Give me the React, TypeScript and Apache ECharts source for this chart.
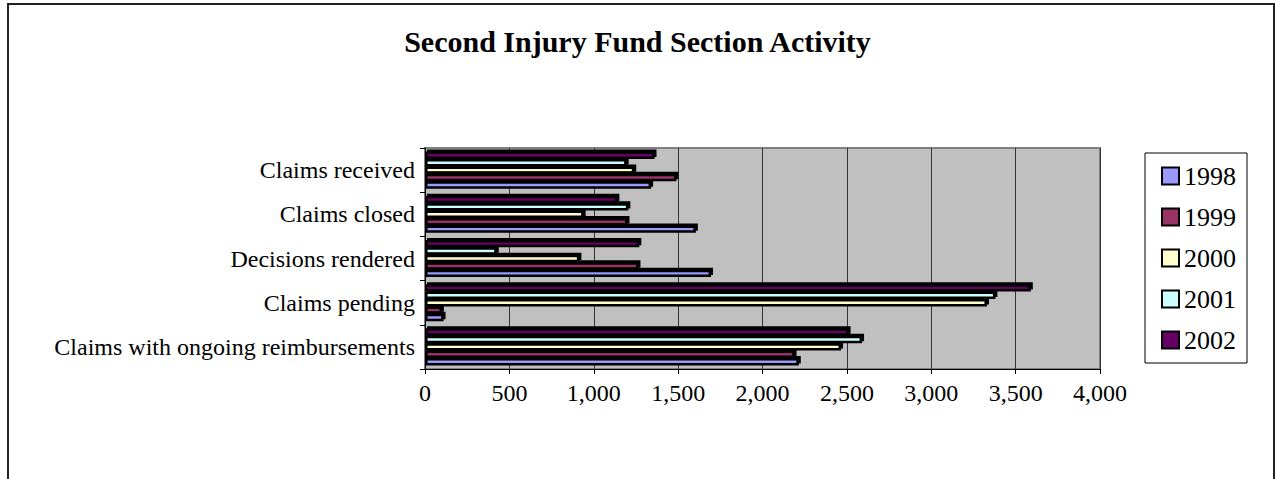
import React, { useEffect, useRef } from "react";
import * as echarts from "echarts";

const categories = [
  "Claims received",
  "Claims closed",
  "Decisions rendered",
  "Claims pending",
  "Claims with ongoing reimbursements",
];
const years = ["1998", "1999", "2000", "2001", "2002"];
const v1998 = [1340, 1605, 1695, 110, 2215];
const v1999 = [1490, 1200, 1265, 100, 2190];
const v2000 = [1240, 940, 915, 3330, 2465];
const v2001 = [1195, 1205, 425, 3380, 2590];
const v2002 = [1360, 1140, 1270, 3590, 2510];
const colors = ["#9999FF", "#993366", "#FFFFCC", "#CCFFFF", "#660066"];
const xTicks = { min: 0, max: 4000, interval: 500 };

const FONT = "Liberation Serif";

export default function App() {
  const ref = useRef<HTMLDivElement>(null);
  useEffect(() => {
    if (!ref.current) return;
    const chart = echarts.init(ref.current, undefined, { renderer: "svg" });
    const values = [v1998, v1999, v2000, v2001, v2002];
    const cats = categories.slice().reverse();
    const order = [4, 3, 2, 1, 0];
    chart.setOption({
      animation: false,
      backgroundColor: "#ffffff",
      textStyle: { fontFamily: FONT, color: "#000" },
      title: {
        text: "Second Injury Fund Section Activity",
        left: "center",
        top: 21,
        textStyle: { fontFamily: FONT, fontWeight: "bold", fontSize: 30, color: "#000" },
      },
      graphic: [
        {
          type: "rect",
          shape: { x: 8, y: 4, width: 1266, height: 520 },
          style: { fill: "none", stroke: "#222", lineWidth: 2 },
          silent: true,
        },
      ],
      legend: {
        orient: "vertical",
        left: 1145,
        top: 153,
        padding: [10, 11, 10, 16],
        itemGap: 15,
        itemWidth: 17,
        itemHeight: 17,
        icon: "rect",
        borderColor: "#000",
        borderWidth: 1,
        itemStyle: { borderColor: "#000", borderWidth: 2 },
        textStyle: { fontFamily: FONT, fontSize: 26, color: "#000" },
        data: years.map((y) => ({
          name: y,
          textStyle: { fontFamily: FONT, fontSize: 26, color: "#000" },
        })),
      },
      grid: {
        left: 425,
        right: 1275 - 1100,
        top: 148,
        bottom: 479 - 369,
        show: true,
        backgroundColor: "#C0C0C0",
        borderColor: "#808080",
        borderWidth: 2,
      },
      xAxis: {
        type: "value",
        min: xTicks.min,
        max: xTicks.max,
        interval: xTicks.interval,
        axisLine: { show: true, lineStyle: { color: "#000", width: 1 } },
        axisTick: { show: true, length: 5, lineStyle: { color: "#000" } },
        splitLine: { show: true, lineStyle: { color: "#333", width: 1 } },
        axisLabel: {
          fontFamily: FONT,
          fontSize: 24,
          color: "#000",
          margin: 12,
          formatter: (v: number) => v.toLocaleString("en-US"),
        },
      },
      yAxis: {
        type: "category",
        data: cats,
        axisLine: { show: true, lineStyle: { color: "#000", width: 1 } },
        axisTick: { show: true, length: 5, lineStyle: { color: "#000" } },
        axisLabel: { fontFamily: FONT, fontSize: 24, color: "#000", margin: 10 },
      },
      series: order.map((i) => ({
        name: years[i],
        type: "bar",
        data: values[i].slice().reverse(),
        barGap: "0%",
        barCategoryGap: "16%",
        itemStyle: {
          color: colors[i],
          borderColor: "#000",
          borderWidth: 2.5,
          shadowColor: "#000",
          shadowOffsetX: 2,
          shadowOffsetY: -2,
          shadowBlur: 0,
        },
      })),
    });
    return () => chart.dispose();
  }, []);
  return (
    <div
      ref={ref}
      style={{ position: "fixed", left: 0, top: 0, width: 1275, height: 479 }}
    />
  );
}
